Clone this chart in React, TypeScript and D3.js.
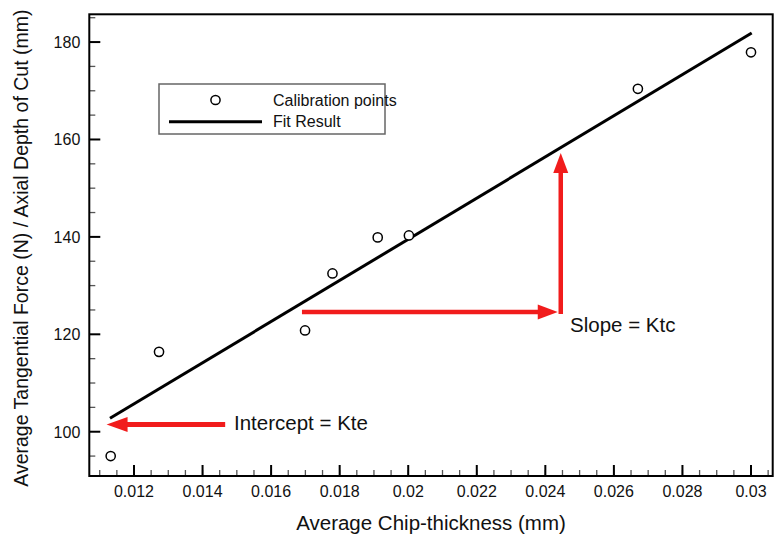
import React from "react";
import * as d3 from "d3";

// ---- data ----
const pointX = [0.01132, 0.01273, 0.01699, 0.01779, 0.01911, 0.02002, 0.02670, 0.03000];
const pointY = [95.0, 116.4, 120.8, 132.5, 139.9, 140.3, 170.4, 177.9];
const fitX = [0.0113, 0.03002];
const fitY = [102.75, 181.85];
const xTicks = [0.012, 0.014, 0.016, 0.018, 0.02, 0.022, 0.024, 0.026, 0.028, 0.03];
const yTicks = [100, 120, 140, 160, 180];
const xMinor = d3.range(0, 40).map((i) => 0.011 + i * 0.0005).filter((v) => v < 0.0306);
const yMinor = [95, 105, 110, 115, 125, 130, 135, 145, 150, 155, 165, 170, 175, 185];
// annotation arrows in data coordinates
const slopeH = { x0: 0.0169, x1: 0.02445, y: 124.6 };
const slopeV = { x: 0.02445, y0: 124.6, y1: 157.2 };
const interceptA = { x0: 0.01466, x1: 0.0112, y: 101.5 };

const W = 784, H = 544;
const L = 89.3, R = 772.7, T = 14.3, B = 476;
const RED = "#f11c1c";
const FONT = "'Liberation Sans', Arial, Helvetica, sans-serif";

export default function App() {
  const x = d3.scaleLinear().domain([0.010696, 0.030633]).range([L, R]);
  const y = d3.scaleLinear().domain([90.91, 185.7]).range([B, T]);
  const fmt = d3.format("~g");
  const line = d3.line<number>().x((d, i) => x(fitX[i])).y((d, i) => y(fitY[i]));

  // slope arrows
  const hy = y(slopeH.y), hx0 = x(slopeH.x0), hx1 = x(slopeH.x1) - 3;
  const vx = x(slopeV.x), vy0 = y(slopeV.y0) + 2, vy1 = y(slopeV.y1);
  const ix0 = x(interceptA.x0), ix1 = x(interceptA.x1), iy = y(interceptA.y);

  return (
    <svg width={W} height={H} style={{ position: "absolute", left: 0, top: 0, background: "#fff" }} fontFamily={FONT}>
      <rect x={0} y={0} width={W} height={H} fill="#fff" />
      {/* minor ticks */}
      {xMinor.map((v, i) => (
        <line key={"xm" + i} x1={x(v)} x2={x(v)} y1={B} y2={B - 6} stroke="#555" strokeWidth={1.3} />
      ))}
      {yMinor.map((v, i) => (
        <line key={"ym" + i} x1={L} x2={L + 6} y1={y(v)} y2={y(v)} stroke="#555" strokeWidth={1.3} />
      ))}
      {/* major ticks */}
      {xTicks.map((v, i) => (
        <g key={"xt" + i}>
          <line x1={x(v)} x2={x(v)} y1={B} y2={B - 11} stroke="#000" strokeWidth={2} />
          <text x={x(v)} y={B + 21} textAnchor="middle" fontSize={16} fill="#111">{fmt(v)}</text>
        </g>
      ))}
      {yTicks.map((v, i) => (
        <g key={"yt" + i}>
          <line x1={L} x2={L + 11} y1={y(v)} y2={y(v)} stroke="#000" strokeWidth={2} />
          <text x={L - 9} y={y(v) + 5.8} textAnchor="end" fontSize={16} fill="#111">{v}</text>
        </g>
      ))}
      {/* frame */}
      <rect x={L} y={T} width={R - L} height={B - T} fill="none" stroke="#000" strokeWidth={2} />

      {/* fit line */}
      <path d={line(fitX) || ""} fill="none" stroke="#000" strokeWidth={3} />
      {/* points */}
      {pointX.map((v, i) => (
        <circle key={"p" + i} cx={x(v)} cy={y(pointY[i])} r={4.6} fill="#fff" stroke="#000" strokeWidth={1.5} />
      ))}

      {/* legend */}
      <rect x={159} y={84} width={226} height={50} fill="none" stroke="#666" strokeWidth={1.5} />
      <circle cx={215.5} cy={100} r={4.6} fill="#fff" stroke="#000" strokeWidth={1.5} />
      <text x={273} y={106} fontSize={16} fill="#111">Calibration points</text>
      <line x1={169} x2={262} y1={121.7} y2={121.7} stroke="#000" strokeWidth={3} />
      <text x={273} y={127} fontSize={16} fill="#111">Fit Result</text>

      {/* slope arrows */}
      <line x1={hx0} x2={hx1 - 16} y1={hy} y2={hy} stroke={RED} strokeWidth={4.5} />
      <polygon points={`${hx1},${hy} ${hx1 - 20},${hy - 7.5} ${hx1 - 20},${hy + 7.5}`} fill={RED} />
      <line x1={vx} x2={vx} y1={vy0} y2={vy1 + 16} stroke={RED} strokeWidth={4.5} />
      <polygon points={`${vx},${vy1} ${vx - 7.5},${vy1 + 20} ${vx + 7.5},${vy1 + 20}`} fill={RED} />
      <text x={570} y={332} fontSize={20.5} fill="#111">Slope = Ktc</text>

      {/* intercept arrow */}
      <line x1={ix0} x2={ix1 + 16} y1={iy} y2={iy} stroke={RED} strokeWidth={5} />
      <polygon points={`${ix1},${iy} ${ix1 + 21},${iy - 7.5} ${ix1 + 21},${iy + 7.5}`} fill={RED} />
      <text x={234} y={430} fontSize={20.5} fill="#111">Intercept = Kte</text>

      {/* axis titles */}
      <text x={(L + R) / 2} y={530} textAnchor="middle" fontSize={20.5} fill="#111">Average Chip-thickness (mm)</text>
      <text transform={`translate(28,${(T + B) / 2 + 3}) rotate(-90)`} textAnchor="middle" fontSize={19.5} fill="#111">
        Average Tangential Force (N) / Axial Depth of Cut (mm)
      </text>
    </svg>
  );
}
